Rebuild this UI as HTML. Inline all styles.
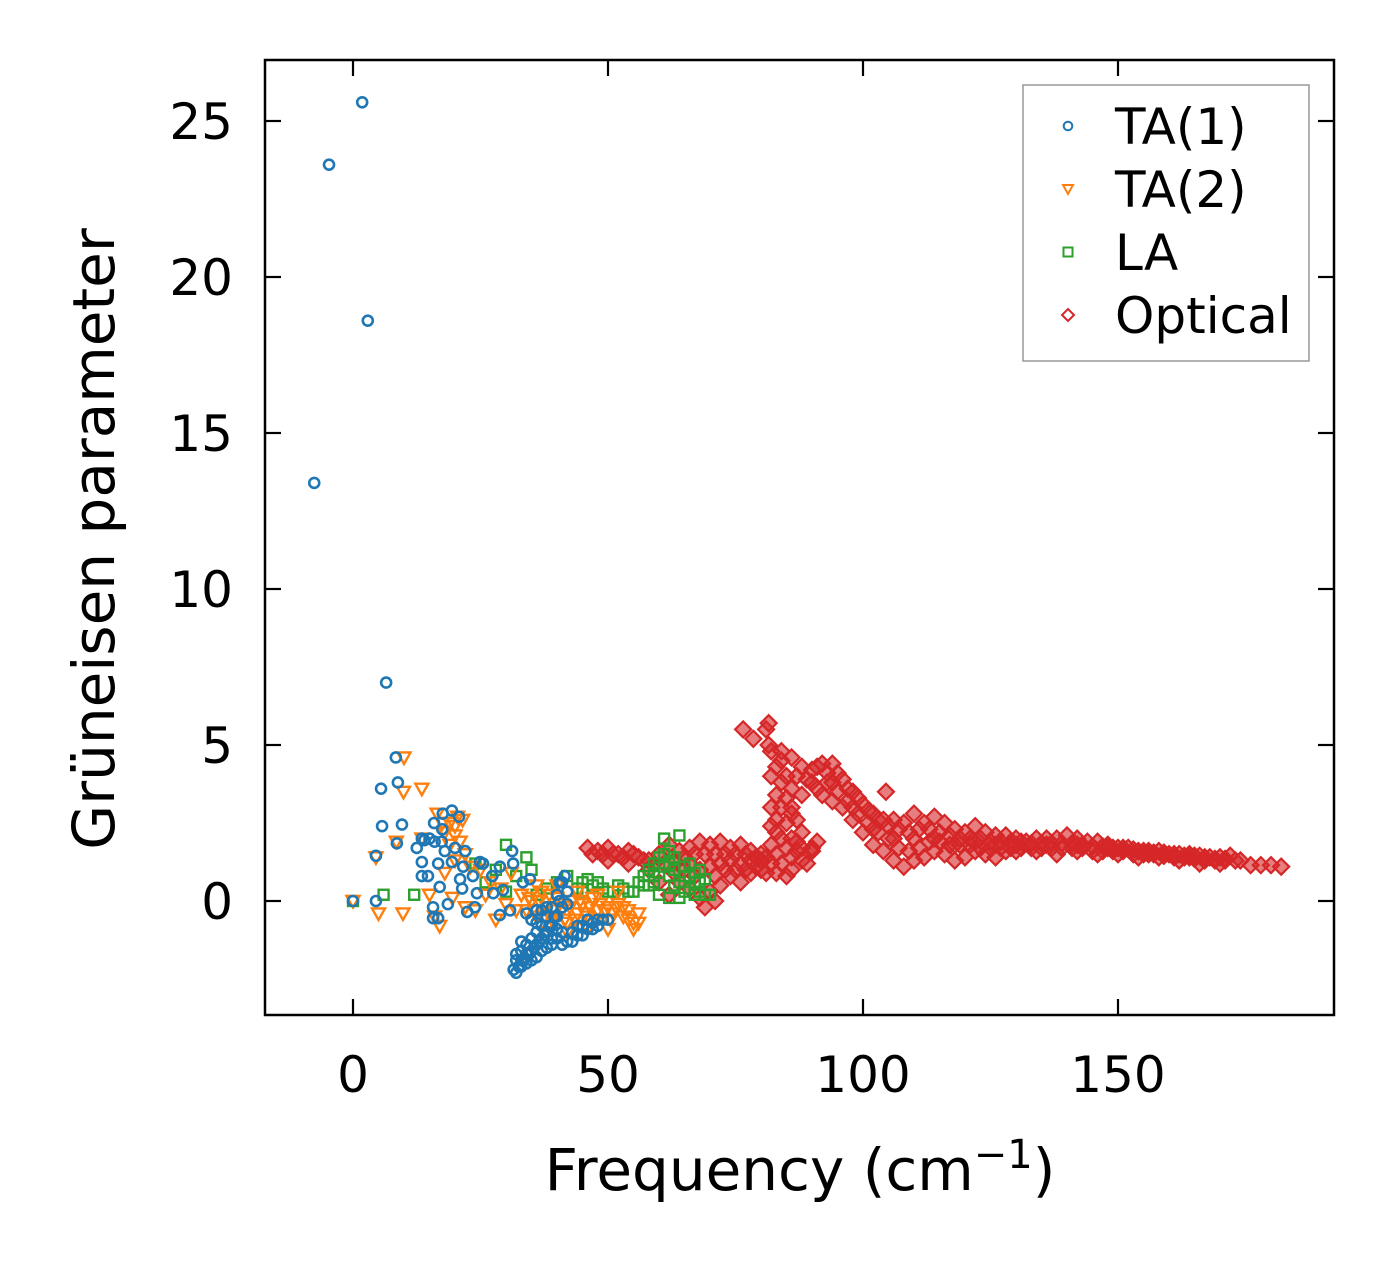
<!DOCTYPE html>
<html><head><meta charset="utf-8"><style>
html,body{margin:0;padding:0;background:#fff;}
svg text{font-family:"DejaVu Sans","Liberation Sans",sans-serif;fill:#000;}
</style></head><body>
<svg id="chart" width="1394" height="1264" xmlns="http://www.w3.org/2000/svg">
<rect width="1394" height="1264" fill="#fff"/>
<g id="marks"></g>
<g id="axes"></g>
</svg>
<script>
const xTicks=[0,50,100,150];
const yTicks=[0,5,10,15,20,25];
const seriesNames=["TA(1)","TA(2)","LA","Optical"];
const ta1=[[1.8,25.6],[-4.7,23.6],[2.9,18.6],[-7.6,13.4],[6.5,7.0],[8.4,4.6],[8.8,3.8],[5.5,3.6],[9.6,2.45],[5.7,2.4],[4.5,1.45],[8.6,1.85],[0,0],[4.5,0],
[17.6,2.8],[19.4,2.9],[20.8,2.7],[15.9,2.5],[17.5,2.3],[13.5,2.0],[15,2.0],[17.4,1.9],[12.5,1.7],[20,1.7],[22,1.6],[13.5,1.25],[16.7,1.2],[19.4,1.25],[21.6,1.1],[13.5,0.8],[14.7,0.8],[21,0.7],[23.5,0.8],[24.9,1.25],[17,0.45],[21.4,0.4],[15.7,-0.2],[18.6,-0.1],[15.7,-0.55],[16.7,-0.55],[22.4,-0.35],[23.9,-0.2],[27.3,0.8],[28.8,1.1],[31.2,1.6],[31.4,1.2],[27.5,0.25],[29.4,0.35],[28.8,-0.45],[30.8,-0.3],[33.3,0.6],[34.7,0.7],[25.5,1.2],[24.3,0.25],[14,1.95],[16,1.9],[18,1.6],
[31.5,-2.2],[32,-1.9],[32.5,-2.1],[33,-1.6],[33.5,-1.9],[34,-1.4],[34.5,-1.7],[35,-1.2],[35.5,-1.5],[36,-1.0],[36.5,-1.3],[37,-0.8],[37.5,-1.1],[38,-0.5],[38.5,-0.8],[39,-0.2],[39.5,-0.5],[40,0.2],[40.5,0.0],[41,0.6],[41.5,0.8],[42,0.3],[33,-1.3],[35,-0.6],[37,-0.3],[40,-1.2],[41,-1.4],[42,-1.3],[43,-1.0],[44,-1.1],[45,-0.8],[46,-0.9],[47,-0.7],[48,-0.8],[49,-0.6],[50,-0.6],[38,-1.5],[36,-1.8],[34,-2.0],[32,-2.3],[33,-2.1],[35,-1.9],[37,-1.6],[39,-1.2],[36,-0.3],[34,-0.4],
[32,-1.7],[33,-1.9],[34,-1.7],[35,-1.6],[36,-1.4],[37,-1.2],[38,-1.0],[39,-0.8],[40,-0.5],[41,-0.2],[42,-0.1],[41,-1.0],[43,-1.3],[44,-0.8],[45,-1.1],[46,-0.6],[47,-0.9],[48,-0.6],[39,-1.4],[40,-0.9],[38,-0.2],[36,-0.7],[40.5,0.6]];
const ta2=[[10,4.6],[9.9,3.5],[13.5,3.6],[4.5,1.4],[8.5,1.9],[0,0],[5,-0.4],[9.8,-0.4],[13.5,2.0],
[16.5,2.8],[17.5,2.5],[19,2.5],[20.5,2.7],[21.5,2.6],[19,1.8],[20,2.1],[21,1.9],[15,0.2],[19.5,0.1],[22,-0.2],[17,-0.8],[16,-0.5],[18,0.9],[20,1.3],[23,1.1],[25,1.0],[27,0.6],[29,0.4],[31,0.9],[24,-0.3],[26,0.2],[30,-0.1],[28,-0.6],[32,-0.3],[18,2.2],[20,2.4],[22,1.5],
[33,0.2],[34,-0.3],[35,0.0],[36,-0.5],[37,0.3],[38,-0.2],[39,-0.6],[40,0.1],[41,-0.3],[42,-0.7],[43,0.0],[44,-0.4],[45,-0.1],[46,-0.5],[47,0.1],[48,-0.3],[49,-0.6],[50,-0.2],[51,-0.4],[52,-0.1],[53,-0.5],[54,-0.3],[55,-0.7],[56,-0.4],[36,0.5],[40,0.5],[44,0.3],[48,0.2],[52,0.3],[38,-1.0],[42,-1.0],[46,-0.9],[50,-0.9],[55,-0.9],
[34.5,0.1],[35.5,-0.3],[36.5,0.0],[37.5,-0.5],[38.5,0.2],[39.5,-0.3],[40.5,-0.1],[41.5,-0.6],[42.5,-0.2],[43.5,-0.6],[44.5,0.0],[45.5,-0.4],[46.5,-0.2],[47.5,-0.6],[48.5,-0.1],[49.5,-0.3],[50.5,-0.6],[51.5,-0.2],[53,-0.2],[54,-0.6],[56,-0.7]];
const la=[[0,0],[6,0.2],[12,0.2],[30,1.8],[34,1.4],[24,1.2],[28,1.0],[26,0.6],[32,0.8],[30,0.3],[36,0.2],[38,0.4],[40,0.6],[42,0.8],[44,0.4],[46,0.7],[48,0.6],[50,0.3],[52,0.5],[54,0.3],[56,0.6],[57,0.8],[58,1.0],[59,1.2],[60,1.4],[61,1.5],[62,1.6],[62,1.2],[63,1.0],[63,0.5],[64,0.1],[64,2.1],[65,0.8],[66,0.4],[66,1.2],[67,0.6],[68,0.3],[68,1.0],[69,0.7],[70,0.2],[55,0.3],[58,0.5],[60,0.9],[35,1.0],[45,0.3],[62,0.1],[60,0.2],[61,2.0],
[45,0.6],[47,0.5],[49,0.4],[51,0.3],[53,0.4],[57,0.5],[59,0.8],[61,1.1],[63,1.4],[65,0.3],[65,1.1],[67,0.2],[67,0.9],[69,0.2],[64,0.6],[66,0.8],[68,0.6],[62,0.8],[59,0.6]];
const optical=[[46,1.7],[48,1.6],[50,1.7],[52,1.5],[54,1.6],[56,1.4],[58,1.3],[60,1.5],[62,1.8],[64,1.6],[66,1.7],[68,1.9],[70,1.8],[72,1.9],[74,1.7],[76,1.8],[78,1.6],[80,1.5],
[50,1.3],[54,1.2],[58,1.0],[60,0.6],[62,0.2],[64,0.6],[66,0.4],[68,0.1],[69,-0.2],[70,0.3],[72,0.5],[74,0.8],[76,0.6],[78,0.9],[80,1.0],[82,1.2],
[66,1.2],[68,1.0],[70,1.1],[72,1.2],[74,1.3],[76,1.2],[78,1.3],[80,1.3],[84,1.2],[86,1.4],[88,1.3],[90,1.7],[91,1.9],[88,1.7],
[82,1.8],[83,2.2],[83,2.6],[84,3.0],[83,3.4],[84,3.8],[83,4.3],[82,4.8],[81.5,5.0],[85,2.5],[86,2.0],[85,3.3],[84,4.5],
[76.5,5.5],[78.5,5.2],[81.5,5.7],[81,5.5],
[84,4.8],[86,4.6],[88,4.3],[90,4.2],[92,4.4],[94,4.4],[96,3.9],[98,3.5],[100,3.1],[102,2.8],[104,2.6],[104.5,3.5],[106,2.6],[108,2.5],[110,2.8],[112,2.5],[114,2.7],[116,2.5],[118,2.3],[120,2.2],[122,2.4],[124,2.2],[126,2.1],[128,2.1],[130,2.0],[132,1.9],[134,2.0],[136,2.0],[138,2.0],[140,2.1],[142,2.0],[144,1.9],[146,1.9],[148,1.8],[150,1.7],[152,1.7],[154,1.6],[156,1.6],[158,1.6],[160,1.5],[162,1.5],[164,1.5],[166,1.45],[168,1.4],[170,1.4],[172,1.45],[174,1.3],[176,1.15],[178,1.15],[180,1.15],[182,1.1],
[86,3.6],[88,3.4],[90,3.8],[92,3.4],[94,3.2],[96,3.0],[98,2.6],[100,2.2],[102,1.8],[104,1.6],[106,1.3],[108,1.1],[110,1.3],[112,1.4],[114,1.6],[116,1.5],[118,1.3],[120,1.4],[122,1.6],[124,1.5],[126,1.4],[128,1.6],[130,1.6],[134,1.6],[138,1.5],[142,1.6],[146,1.5],[150,1.5],[154,1.4],[158,1.4],[162,1.3],[166,1.2],[170,1.2],
[94,3.8],[98,3.0],[102,2.3],[106,2.0],[110,2.0],[114,2.0],[118,1.8],[122,1.9],[126,1.8],[130,1.8],[136,1.8],[142,1.8],[148,1.7],[156,1.5],[164,1.4],
[86,1.0],[87,1.6],[88,2.2],[86,2.8],[89,1.2],[90,1.6],
[47,1.5],[49,1.5],[51,1.5],[53,1.4],[55,1.5],[57,1.3],[59,1.2],[61,1.2],[63,1.3],[65,1.4],[67,1.5],[69,1.5],[71,1.5],[73,1.5],[75,1.5],[77,1.5],[79,1.4],[81,1.4],[83,1.5],[85,1.7],[87,1.9],
[71,0.8],[73,1.0],[75,1.0],[77,1.0],[79,1.1],[81,0.9],[83,0.9],[85,0.8],[71,0.0],[67,0.8],[65,1.0],[63,0.9],
[82,4.0],[82,3.0],[82,2.4],[84,2.0],[85,4.0],[86,3.0],[87,2.6],[87,4.0],[89,3.9],[91,3.6],[93,3.8],[95,3.5],[97,3.2],[99,2.8],[101,2.5],[103,2.2],[105,2.0],[107,1.7],[109,1.6],[111,1.7],[113,1.9],[115,1.9],[117,1.8],[119,1.8],[121,1.8],[123,1.7],[125,1.7],[127,1.7],[129,1.7],[131,1.7],[133,1.7],[135,1.7],[137,1.7],[139,1.7],[141,1.7],[143,1.7],[145,1.6],[147,1.6],[149,1.6],[151,1.6],[153,1.5],[155,1.5],[157,1.5],[159,1.45],[161,1.4],[163,1.4],[165,1.35],[167,1.3],[169,1.3],[171,1.3],[173,1.3],
[91,4.3],[93,4.1],[95,4.1],[97,3.6],[99,3.3],[101,2.9],[103,2.6],[105,2.4],[107,2.3],[109,2.2],[111,2.3],[113,2.3],[115,2.2],[117,2.1],[119,2.0],[121,2.0],[123,2.0],[125,1.9],[127,1.9],[129,1.9],[131,1.9],[133,1.85],[135,1.85],[137,1.85],[139,1.85],[141,1.85],[143,1.8],[145,1.75],[147,1.75],[149,1.7],[151,1.7],[153,1.65],[155,1.6],[157,1.55],[159,1.55],[161,1.5],[163,1.45],[165,1.45],[167,1.4],[169,1.35],[171,1.35]];

const NS="http://www.w3.org/2000/svg";
const L=265,R=1334,T=60,B=1015;
function xs(v){return 353+v*5.1;}
function ys(v){return 901-v*31.2;}
const marks=document.getElementById('marks');
const axes=document.getElementById('axes');
function mk(tag,attrs,parent){const e=document.createElementNS(NS,tag);for(const k in attrs)e.setAttribute(k,attrs[k]);parent.appendChild(e);return e;}
function marker(kind,cx,cy,parent){
  let e;
  if(kind==="circle"){e=mk('circle',{cx:cx,cy:cy,r:5,fill:'none',stroke:'#1f77b4','stroke-width':2.6},parent);}
  else if(kind==="tri"){e=mk('path',{d:`M${cx-6.5},${cy-5}L${cx+6.5},${cy-5}L${cx},${cy+6.5}Z`,fill:'none',stroke:'#ff7f0e','stroke-width':2.4},parent);}
  else if(kind==="sq"){e=mk('rect',{x:cx-5,y:cy-5,width:10,height:10,fill:'none',stroke:'#2ca02c','stroke-width':2.4},parent);}
  else {e=mk('path',{d:`M${cx},${cy-8}L${cx+8},${cy}L${cx},${cy+8}L${cx-8},${cy}Z`,fill:'#d62728','fill-opacity':0.6,stroke:'#d62728','stroke-width':2.2},parent);}
  return e;
}
function drawSeries(data,kind,name){
  const g=mk('g',{},marks);
  
  
  data.forEach(p=>{
    const e=marker(kind,xs(p[0]),ys(p[1]),g);
    
    
  });
}
drawSeries(optical,"diamond","optical");
drawSeries(la,"sq","la");
drawSeries(ta2,"tri","ta2");
drawSeries(ta1,"circle","ta1");

const frame=mk('rect',{x:L,y:T,width:R-L,height:B-T,fill:'none',stroke:'#000','stroke-width':2.5},axes);


xTicks.forEach(v=>{
  const x=xs(v);
  mk('line',{x1:x,y1:B,x2:x,y2:B-16,stroke:'#000','stroke-width':2.2},axes);
  mk('line',{x1:x,y1:T,x2:x,y2:T+16,stroke:'#000','stroke-width':2.2},axes);
  const t=mk('text',{x:x,y:1092,'text-anchor':'middle','font-size':50},axes);
  t.textContent=v;
  
  
});
yTicks.forEach(v=>{
  const y=ys(v);
  mk('line',{x1:L,y1:y,x2:L+16,y2:y,stroke:'#000','stroke-width':2.2},axes);
  mk('line',{x1:R,y1:y,x2:R-16,y2:y,stroke:'#000','stroke-width':2.2},axes);
  const t=mk('text',{x:233,y:y+18,'text-anchor':'end','font-size':50},axes);
  t.textContent=v;
  
  
});
const xl=mk('text',{x:800,y:1190,'text-anchor':'middle','font-size':58},axes);
xl.innerHTML='Frequency (cm<tspan dy="-22" font-size="40">−1</tspan><tspan dy="22">)</tspan>';


const yl=mk('text',{x:0,y:0,'text-anchor':'middle','font-size':58,transform:'translate(114,539) rotate(-90)'},axes);
yl.textContent='Grüneisen parameter';



const lg=mk('g',{},axes);


mk('rect',{x:1023,y:85,width:286,height:276,fill:'#fff','fill-opacity':0.8,stroke:'#999','stroke-width':1.5},lg);
const kinds=["circle","tri","sq","diamond"];
seriesNames.forEach((n,i)=>{
  const y=126+i*63;
  const eg=mk('g',{},lg);
  
  
  const m=marker(kinds[i],1068,y,eg);
  if(kinds[i]==="circle"){m.setAttribute('r',4.3);m.setAttribute('stroke-width',2);}
  if(kinds[i]==="tri"){m.setAttribute('d',`M1063,${y-4}L1073,${y-4}L1068,${y+5}Z`);m.setAttribute('stroke-width',2);}
  if(kinds[i]==="sq"){m.setAttribute('x',1063.5);m.setAttribute('y',y-4.5);m.setAttribute('width',9);m.setAttribute('height',9);m.setAttribute('stroke-width',2);}
  if(kinds[i]==="diamond"){m.setAttribute('fill','none');m.setAttribute('stroke-width',2);m.setAttribute('d',`M1068,${y-6}L1074,${y}L1068,${y+6}L1062,${y}Z`);}
  const t=mk('text',{x:1115,y:y+18,'font-size':50},eg);
  t.textContent=n;
});
</script>
</body></html>
